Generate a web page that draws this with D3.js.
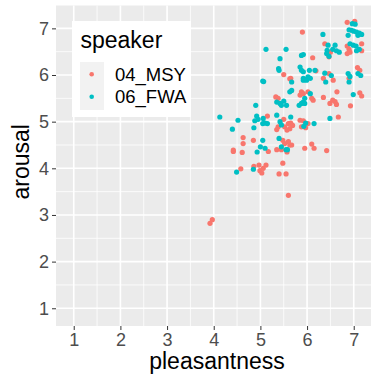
<!DOCTYPE html>
<html>
<head>
<meta charset="utf-8">
<script src="https://cdn.jsdelivr.net/npm/d3@7"></script>
<style>
  body { margin: 0; background: white; }
  text { font-family: "Liberation Sans", Arial, sans-serif; }
</style>
</head>
<body>
<div id="chart"></div>
<script>
// speakers and colours (ggplot default hue palette)
const speakers = ["04_MSY", "06_FWA"];
const speakerColors = ["#F8766D", "#00BFC4"];

const xTicks = [1, 2, 3, 4, 5, 6, 7];
const yTicks = [1, 2, 3, 4, 5, 6, 7];

// 04_MSY
const msyPleasant = [6.86, 7.02, 5.90, 6.38, 6.50, 6.47, 6.86, 6.90, 7.17, 6.86, 6.92, 7.17, 6.12, 5.50, 5.63,
  6.19, 6.47, 6.35, 6.56, 7.08, 7.13, 6.90, 5.65, 5.15, 5.35, 5.38, 5.52, 5.60, 5.63, 5.57,
  5.33, 5.38, 4.63, 4.63, 4.85, 5.48, 5.52, 5.60, 5.63, 4.42, 5.88, 5.92, 5.85, 6.02, 6.13,
  6.10, 6.35, 6.64, 6.55, 6.60, 6.63, 6.49, 7.13, 7.17, 6.93, 5.65, 5.69, 5.92, 6.02, 5.97,
  5.88, 6.67, 5.67, 6.10, 5.95, 6.15, 4.42, 4.61, 5.17, 5.35, 5.45, 5.57, 5.48, 4.86, 4.97,
  5.12, 5.06, 4.99, 5.03, 4.58, 5.40, 5.55, 5.60, 3.92, 3.97, 6.42, 5.85, 5.50];
const msyArousal = [7.13, 7.15, 6.92, 6.67, 6.49, 6.39, 6.62, 6.55, 6.67, 6.46, 6.49, 6.52, 6.37, 6.01, 5.92,
  6.09, 6.03, 5.93, 5.89, 6.16, 6.10, 5.93, 5.93, 5.12, 4.83, 4.89, 4.89, 4.96, 4.85, 4.82,
  5.53, 5.50, 4.66, 4.53, 4.60, 4.60, 4.53, 4.57, 4.50, 4.39, 5.64, 5.60, 5.57, 5.64, 5.46,
  5.50, 5.52, 5.64, 5.46, 5.43, 5.37, 5.39, 5.62, 5.55, 5.34, 4.97, 4.92, 5.02, 4.96, 4.87,
  4.89, 5.10, 4.50, 4.52, 4.43, 4.43, 4.36, 4.34, 4.36, 4.40, 4.40, 4.35, 4.11, 4.04, 4.07,
  4.07, 4.00, 3.95, 3.90, 3.99, 3.88, 3.88, 3.42, 2.82, 2.90, 4.38, 5.03, 5.05];

// 06_FWA
const fwaPleasant = [6.97, 7.03, 6.90, 6.95, 7.00, 7.06, 7.12, 7.17, 7.09, 6.88, 6.34, 5.12, 5.55, 5.42, 5.39,
  5.40, 5.05, 5.07, 6.45, 6.60, 6.43, 6.42, 6.47, 6.55, 6.63, 6.69, 6.92, 6.99, 7.05, 7.12,
  7.06, 5.88, 5.92, 5.85, 5.88, 5.92, 6.05, 6.17, 6.02, 6.07, 5.92, 5.95, 6.38, 6.88, 6.92,
  7.09, 7.15, 6.90, 6.40, 5.67, 4.90, 4.13, 4.52, 4.40, 4.86, 4.92, 4.95, 4.88, 5.06, 5.10,
  5.15, 5.05, 5.35, 5.42, 5.45, 5.35, 5.42, 5.45, 5.50, 5.56, 5.63, 5.05, 5.40, 5.00, 5.10,
  5.45, 5.58, 5.92, 5.99, 6.07, 5.95, 5.92, 5.88, 5.83, 5.95, 6.99, 5.65, 5.97, 5.93, 6.15,
  6.49, 4.93, 5.55, 4.85, 4.49, 6.52, 5.67];
const fwaArousal = [7.10, 7.09, 6.97, 6.96, 6.94, 6.92, 6.90, 6.87, 6.85, 6.85, 6.87, 6.55, 6.55, 6.35, 6.14,
  6.10, 5.87, 5.86, 6.64, 6.64, 6.53, 6.46, 6.40, 6.55, 6.52, 6.49, 6.67, 6.64, 6.62, 6.55,
  6.52, 6.42, 6.44, 6.17, 6.10, 6.07, 6.10, 6.10, 5.96, 5.93, 5.93, 5.90, 6.04, 6.03, 5.97,
  6.03, 5.99, 5.85, 5.85, 5.85, 5.35, 5.10, 5.03, 4.84, 4.87, 5.12, 5.05, 5.02, 5.07, 4.97,
  4.96, 4.96, 5.14, 5.00, 4.93, 5.42, 5.39, 5.35, 5.44, 5.35, 5.64, 4.60, 4.64, 4.46, 4.43,
  4.46, 4.40, 5.89, 5.89, 5.60, 5.50, 5.42, 5.39, 5.35, 5.39, 5.58, 5.10, 4.97, 4.90, 4.96,
  5.07, 4.35, 4.40, 3.98, 3.92, 5.99, 5.67];

const series = [
  { name: speakers[0], x: msyPleasant, y: msyArousal },
  { name: speakers[1], x: fwaPleasant, y: fwaArousal }
];

const width = 371, height = 378;
const panel = { left: 56, top: 5.5, right: 378, bottom: 326 };

const x = d3.scaleLinear().domain([0.62, 7.52]).range([panel.left, panel.right]);
const y = d3.scaleLinear().domain([0.62, 7.49]).range([panel.bottom, panel.top]);
const color = d3.scaleOrdinal().domain(speakers).range(speakerColors);

const svg = d3.select("#chart").append("svg")
  .attr("width", width)
  .attr("height", height)
  .style("display", "block");

// panel background
svg.append("rect")
  .attr("x", panel.left).attr("y", panel.top)
  .attr("width", panel.right - panel.left)
  .attr("height", panel.bottom - panel.top)
  .attr("fill", "#EBEBEB");

const grid = svg.append("g");
const minorX = d3.range(1.5, 7.6, 1).filter(v => v > 0.62 && v < 7.52);
const minorY = d3.range(1.5, 7.6, 1).filter(v => v > 0.62 && v < 7.49);

grid.selectAll(".mx").data(minorX).enter().append("line")
  .attr("x1", d => x(d)).attr("x2", d => x(d))
  .attr("y1", panel.top).attr("y2", panel.bottom)
  .attr("stroke", "white").attr("stroke-width", 0.8);
grid.selectAll(".my").data(minorY).enter().append("line")
  .attr("y1", d => y(d)).attr("y2", d => y(d))
  .attr("x1", panel.left).attr("x2", panel.right)
  .attr("stroke", "white").attr("stroke-width", 0.8);
grid.selectAll(".gx").data(xTicks).enter().append("line")
  .attr("x1", d => x(d)).attr("x2", d => x(d))
  .attr("y1", panel.top).attr("y2", panel.bottom)
  .attr("stroke", "white").attr("stroke-width", 1.6);
grid.selectAll(".gy").data(yTicks).enter().append("line")
  .attr("y1", d => y(d)).attr("y2", d => y(d))
  .attr("x1", panel.left).attr("x2", panel.right)
  .attr("stroke", "white").attr("stroke-width", 1.6);

// points
series.forEach(s => {
  svg.append("g").selectAll("circle")
    .data(s.x.map((v, i) => [v, s.y[i]]))
    .enter().append("circle")
    .attr("cx", d => x(d[0]))
    .attr("cy", d => y(d[1]))
    .attr("r", 2.6)
    .attr("fill", color(s.name));
});

// axes
const xAxis = svg.append("g")
  .attr("transform", "translate(0," + panel.bottom + ")")
  .call(d3.axisBottom(x).tickValues(xTicks).tickSize(4).tickPadding(3).tickFormat(d3.format("d")));
const yAxis = svg.append("g")
  .attr("transform", "translate(" + panel.left + ",0)")
  .call(d3.axisLeft(y).tickValues(yTicks).tickSize(4).tickPadding(3).tickFormat(d3.format("d")));

[xAxis, yAxis].forEach(a => {
  a.select(".domain").remove();
  a.selectAll(".tick line").attr("stroke", "#333333").attr("stroke-width", 1);
  a.selectAll(".tick text")
    .attr("fill", "#4D4D4D")
    .style("font-size", "18px")
    .style("font-family", "Liberation Sans, Arial, sans-serif");
});

// axis titles
svg.append("text")
  .attr("x", (panel.left + panel.right) / 2)
  .attr("y", 369)
  .attr("text-anchor", "middle")
  .style("font-size", "23px")
  .text("pleasantness");

svg.append("text")
  .attr("transform", "translate(29," + ((panel.top + panel.bottom) / 2 - 4) + ") rotate(-90)")
  .attr("text-anchor", "middle")
  .style("font-size", "23px")
  .text("arousal");

// legend
const legend = svg.append("g");
legend.append("rect")
  .attr("x", 72).attr("y", 21).attr("width", 119).attr("height", 96)
  .attr("fill", "white");
legend.append("text")
  .attr("x", 80.5).attr("y", 47.5)
  .style("font-size", "23px")
  .text("speaker");
legend.append("rect")
  .attr("x", 80).attr("y", 62).attr("width", 24).attr("height", 48)
  .attr("fill", "#F2F2F2");
speakers.forEach((s, i) => {
  legend.append("circle")
    .attr("cx", 91.7).attr("cy", 74.3 + i * 22.4)
    .attr("r", 2.3)
    .attr("fill", color(s));
  legend.append("text")
    .attr("x", 115).attr("y", 81 + i * 22.4)
    .style("font-size", "18.5px")
    .text(s);
});
</script>
</body>
</html>
